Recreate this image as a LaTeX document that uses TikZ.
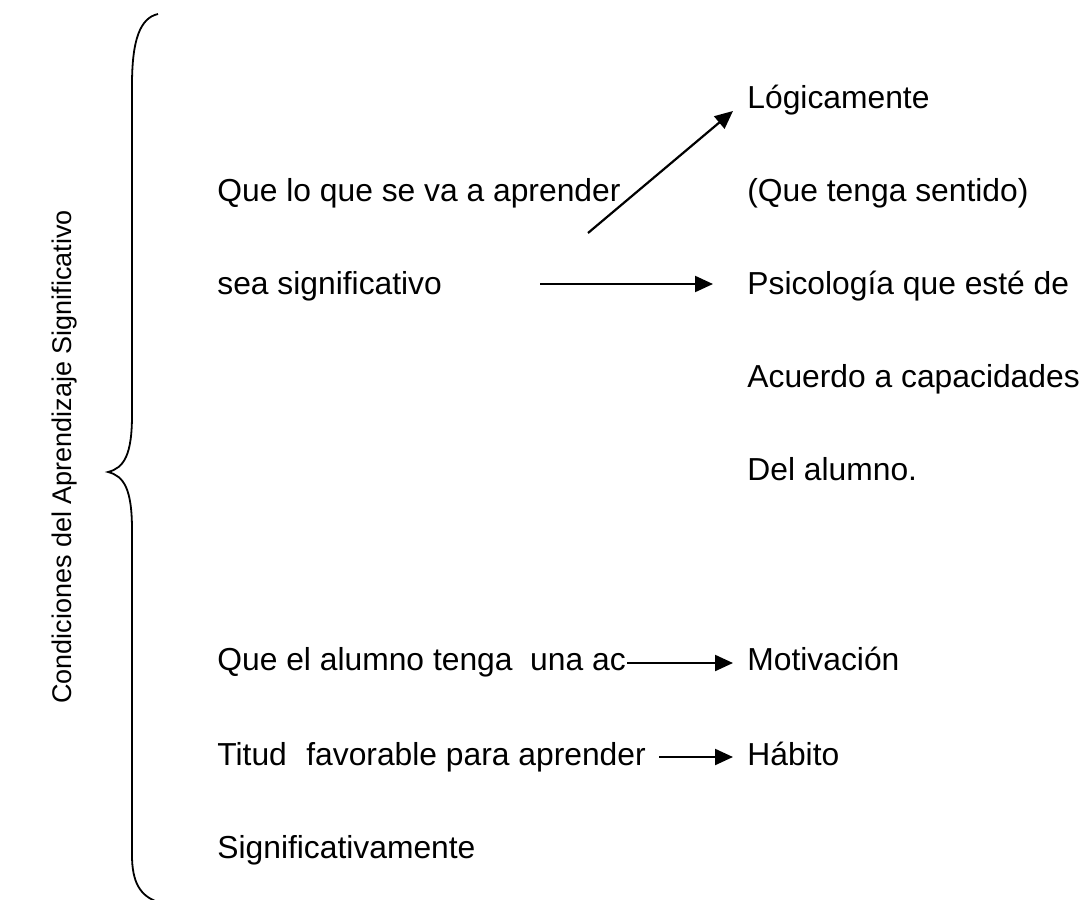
\documentclass[tikz,border=0pt]{standalone}
\usepackage{fontspec}
\setmainfont{Liberation Sans}
\usetikzlibrary{arrows.meta,positioning}
\tikzset{
    txt/.style={inner sep=0pt, anchor=base west, font=\fontsize{15.9}{18}\selectfont},
    sidetitle/.style={inner sep=0pt, rotate=90, font=\fontsize{13.5}{16}\selectfont},
    bracepath/.style={draw=black, line width=0.9pt},
    arrowfwd/.style={draw=black, line width=1.1pt, -{Triangle[length=9pt,width=8pt]}}
}

\begin{document}
\begin{tikzpicture}[x=0.5pt,y=-0.5pt]
        \useasboundingbox (0,0) rectangle (1083,900);

        % Side title and brace
        \node[sidetitle] (title) at (65,457) {Condiciones del Aprendizaje Significativo};
        \path[bracepath] (158,14) .. controls (140,18) and (132,40) .. (132,85)
            -- (132,415) .. controls (132,455) and (124,468) .. (108,472)
            .. controls (124,476) and (132,489) .. (132,530)
            -- (132,855) .. controls (132,882) and (140,896) .. (158,902);

        % First condition
        \node[txt] (cond1a) at (217,201) {Que lo que se va a aprender};
        \node[txt] (cond1b) at (217,294) {sea significativo};

        \node[txt] (logic) at (747,108) {Lógicamente};
        \node[txt] (sense) at (747,201) {(Que tenga sentido)};
        \node[txt] (psico) at (747,294) {Psicología que esté de};
        \node[txt] (agree) at (747,387) {Acuerdo a capacidades};
        \node[txt] (pupil) at (747,480) {Del alumno.};

        % Second condition
        \node[txt] (cond2a) at (217,670) {Que el alumno tenga\ \ una ac};
        \node[txt] (cond2b) at (217,765) {Titud\ \,\,favorable para aprender};
        \node[txt] (cond2c) at (217,858) {Significativamente};

        \node[txt] (motiv) at (747,670) {Motivación};
        \node[txt] (habit) at (747,765) {Hábito};

        % Arrows
        \coordinate (diagstart) at (588,233);
        \coordinate (sigstart) at (540,284);
        \coordinate (motstart) at (627,663);
        \coordinate (habstart) at (659,757);
        \draw[arrowfwd] (diagstart) -- ([xshift=-7pt,yshift=-1.5pt]logic.base west);
        \draw[arrowfwd] (sigstart) -- ([xshift=-17pt,yshift=5pt]psico.base west);
        \draw[arrowfwd] (motstart) -- ([xshift=-7pt,yshift=3.5pt]motiv.base west);
        \draw[arrowfwd] (habstart) -- ([xshift=-7pt,yshift=4pt]habit.base west);
\end{tikzpicture}
\end{document}
